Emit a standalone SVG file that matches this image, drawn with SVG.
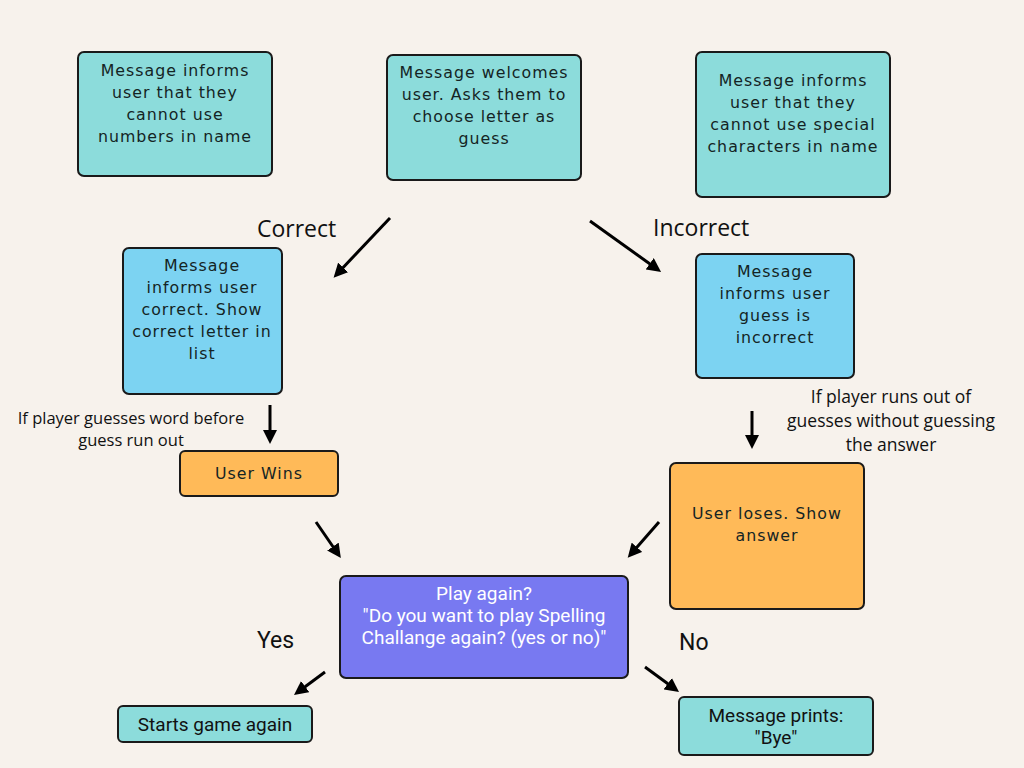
<svg xmlns="http://www.w3.org/2000/svg" width="1024" height="768" viewBox="0 0 1024 768">
<defs>
<marker id="ah" markerUnits="userSpaceOnUse" markerWidth="14" markerHeight="14" viewBox="0 0 14 14" refX="9" refY="7" orient="auto">
<path d="M0,0 L14,7 L0,14 Z" fill="#000"/>
</marker>
</defs>
<style>
.bg{fill:#F7F2EC}
.box{stroke:#1a1a1a;stroke-width:2}
.teal{fill:#8CDCDB}
.blue{fill:#7CD3F2}
.orange{fill:#FFBA58}
.purple{fill:#7879F1}
.t{font-family:"DejaVu Sans","Noto Sans",sans-serif;font-size:15.8px;fill:#142424;text-anchor:middle;letter-spacing:1px}
.c{font-family:Roboto,"Liberation Sans",sans-serif;font-size:19px;text-anchor:middle}
.w{fill:#fff}
.k{fill:#111}
.lbl{font-family:"Open Sans","Noto Sans",sans-serif;font-size:23px;fill:#111}
.yn{font-family:Roboto,"Liberation Sans",sans-serif;font-size:23px;fill:#111}
.note{font-family:"Open Sans","Noto Sans",sans-serif;font-size:16.5px;fill:#111;text-anchor:middle}
.conn line{stroke:#000;stroke-width:3;marker-end:url(#ah)}
</style>
<rect class="bg" x="0" y="0" width="1024" height="768"/>

<g id="numbers-msg">
<rect class="box teal" x="78" y="52" width="194" height="124" rx="6"/>
<text class="t" x="175" y="76">Message informs</text>
<text class="t" x="175" y="98">user that they</text>
<text class="t" x="175" y="120">cannot use</text>
<text class="t" x="175" y="142">numbers in name</text>
</g>

<g id="welcome-msg">
<rect class="box teal" x="387" y="55" width="194" height="125" rx="6"/>
<text class="t" x="484" y="78">Message welcomes</text>
<text class="t" x="484" y="100">user. Asks them to</text>
<text class="t" x="484" y="122">choose letter as</text>
<text class="t" x="484" y="144">guess</text>
</g>

<g id="special-msg">
<rect class="box teal" x="696" y="52" width="194" height="145" rx="6"/>
<text class="t" x="793" y="86">Message informs</text>
<text class="t" x="793" y="108">user that they</text>
<text class="t" x="793" y="130">cannot use special</text>
<text class="t" x="793" y="152">characters in name</text>
</g>

<g id="correct-msg">
<rect class="box blue" x="123" y="248" width="159" height="146" rx="6"/>
<text class="t" x="202" y="271">Message</text>
<text class="t" x="202" y="293">informs user</text>
<text class="t" x="202" y="315">correct. Show</text>
<text class="t" x="202" y="337">correct letter in</text>
<text class="t" x="202" y="359">list</text>
</g>

<g id="incorrect-msg">
<rect class="box blue" x="696" y="254" width="158" height="124" rx="6"/>
<text class="t" x="775" y="277">Message</text>
<text class="t" x="775" y="299">informs user</text>
<text class="t" x="775" y="321">guess is</text>
<text class="t" x="775" y="343">incorrect</text>
</g>

<g id="user-wins">
<rect class="box orange" x="180" y="451" width="158" height="45" rx="5"/>
<text class="t" x="259" y="479">User Wins</text>
</g>

<g id="user-loses">
<rect class="box orange" x="670" y="463" width="194" height="146" rx="6"/>
<text class="t" x="767" y="519">User loses. Show</text>
<text class="t" x="767" y="541">answer</text>
</g>

<g id="play-again">
<rect class="box purple" x="340" y="576" width="288" height="102" rx="6"/>
<text class="c w" x="484" y="600">Play again?</text>
<text class="c w" x="484" y="622">"Do you want to play Spelling</text>
<text class="c w" x="484" y="644">Challange again? (yes or no)"</text>
</g>

<g id="starts-again">
<rect class="box teal" x="118" y="706" width="194" height="36" rx="5"/>
<text class="c k" x="215" y="731">Starts game again</text>
</g>

<g id="bye-msg">
<rect class="box teal" x="679" y="697" width="194" height="58" rx="5"/>
<text class="c k" x="776" y="722">Message prints:</text>
<text class="c k" x="776" y="744">"Bye"</text>
</g>

<g id="labels">
<text class="lbl" x="257" y="237">Correct</text>
<text class="lbl" x="653" y="236">Incorrect</text>
<text class="yn" x="257" y="648">Yes</text>
<text class="yn" x="679" y="650">No</text>
<text class="note" x="131" y="424">If player guesses word before</text>
<text class="note" x="131" y="446">guess run out</text>
<text class="note" x="891" y="403" style="font-size:17.5px">If player runs out of</text>
<text class="note" x="891" y="427" style="font-size:17.5px">guesses without guessing</text>
<text class="note" x="891" y="451" style="font-size:17.5px">the answer</text>
</g>

<g id="connectors" class="conn">
<line x1="390" y1="218" x2="337" y2="274"/>
<line x1="590" y1="221" x2="657" y2="269"/>
<line x1="270" y1="405" x2="270" y2="439"/>
<line x1="752" y1="411" x2="752" y2="444"/>
<line x1="316" y1="522" x2="338" y2="554"/>
<line x1="659" y1="522" x2="631" y2="554"/>
<line x1="325" y1="672" x2="298" y2="692"/>
<line x1="645" y1="667" x2="675" y2="689"/>
</g>
</svg>
